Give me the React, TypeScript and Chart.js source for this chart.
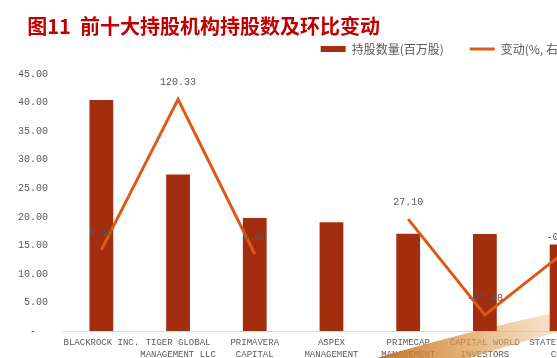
import React, { useEffect, useRef } from 'react';
import { Chart, registerables } from 'chart.js';

Chart.register(...registerables);

const categories: string[][] = [
  ['BLACKROCK INC.'],
  ['TIGER GLOBAL', 'MANAGEMENT LLC'],
  ['PRIMAVERA', 'CAPITAL'],
  ['ASPEX', 'MANAGEMENT'],
  ['PRIMECAP', 'MANAGEMENT'],
  ['CAPITAL WORLD', 'INVESTORS'],
  ['STATE STREET', 'CORP'],
];
const holdings = [40.45, 27.4, 19.8, 19.05, 17.05, 17.0, 15.15];
const changes: (number | null)[] = [3.16, 120.33, 0.0, null, 27.1, -47.48, -0.35];

const barLabel = '持股数量(百万股)';
const lineLabel = '变动(%, 右轴)';
const titleText = '      图11  前十大持股机构持股数及环比变动';

const BAR_COLOR = '#A32D0F';
const LINE_COLOR = '#DD5A16';
const TEXT_GRAY = '#595959';

const swooshPlugin = {
  id: 'swoosh',
  beforeDatasetsDraw(chart: any) {
    const { ctx, chartArea } = chart;
    const b = chartArea.bottom;
    ctx.save();
    const g = ctx.createLinearGradient(380, b + 27, 600, b - 28);
    g.addColorStop(0, 'rgba(195,115,35,0.95)');
    g.addColorStop(0.4, 'rgba(220,150,70,0.7)');
    g.addColorStop(1, 'rgba(245,225,195,0.35)');
    ctx.fillStyle = g;
    ctx.beginPath();
    ctx.moveTo(377, b + 27);
    ctx.quadraticCurveTo(470, b - 1, 600, b - 28);
    ctx.lineTo(600, b - 9);
    ctx.quadraticCurveTo(530, b + 7, 470, b + 27);
    ctx.closePath();
    ctx.fill();
    ctx.restore();
  },
};

const valueLabelPlugin = {
  id: 'valueLabels',
  afterDatasetsDraw(chart: any) {
    const { ctx } = chart;
    const meta = chart.getDatasetMeta(1);
    ctx.save();
    ctx.font = '10px "Liberation Mono"';
    ctx.fillStyle = TEXT_GRAY;
    ctx.textAlign = 'center';
    ctx.textBaseline = 'middle';
    meta.data.forEach((el: any, i: number) => {
      const v = changes[i];
      if (v === null || v === undefined) return;
      ctx.fillText(v.toFixed(2), el.x, el.y - 17);
    });
    ctx.restore();
  },
};

export default function App() {
  const ref = useRef<HTMLCanvasElement | null>(null);

  useEffect(() => {
    if (!ref.current) return;
    const chart = new Chart(ref.current, {
      type: 'bar',
      data: {
        labels: categories,
        datasets: [
          {
            type: 'bar',
            label: barLabel,
            data: holdings,
            backgroundColor: BAR_COLOR,
            borderWidth: 0,
            yAxisID: 'y',
            categoryPercentage: 1,
            barPercentage: 0.31,
            order: 2,
          },
          {
            type: 'line',
            label: lineLabel,
            data: changes,
            borderColor: LINE_COLOR,
            backgroundColor: LINE_COLOR,
            borderWidth: 3,
            pointRadius: 0,
            spanGaps: false,
            tension: 0,
            yAxisID: 'y1',
            order: 1,
          },
        ],
      } as any,
      options: {
        responsive: false,
        animation: false,
        layout: { padding: { left: 0, right: 0, top: 0, bottom: 0 } },
        plugins: {
          tooltip: { enabled: false },
          title: {
            display: true,
            text: titleText,
            align: 'start',
            color: '#C00000',
            font: { family: '"Noto Sans CJK SC"', size: 20, weight: 'bold' },
            padding: { top: 14, bottom: -21 },
          },
          legend: {
            display: true,
            position: 'top',
            align: 'end',
            fullSize: false,
            labels: {
              color: TEXT_GRAY,
              font: { family: '"Noto Sans CJK SC"', size: 12 },
              padding: 26,
              usePointStyle: true,
              pointStyleWidth: 25,
              boxHeight: 6,
              sort: (a: any, b: any) => a.datasetIndex - b.datasetIndex,
              generateLabels: (c: any) => {
                const items = Chart.defaults.plugins.legend.labels.generateLabels(c);
                items.forEach((it: any) => {
                  if (it.datasetIndex === 0) {
                    it.pointStyle = 'rect';
                    it.fillStyle = BAR_COLOR;
                    it.strokeStyle = BAR_COLOR;
                    it.lineWidth = 0;
                  } else {
                    it.pointStyle = 'line';
                    it.strokeStyle = LINE_COLOR;
                    it.lineWidth = 3;
                  }
                });
                return items;
              },
            },
          },
        },
        scales: {
          x: {
            grid: { display: false, drawTicks: false },
            border: { display: true, color: '#D9D9D9', width: 1 },
            ticks: {
              color: TEXT_GRAY,
              font: { family: '"Liberation Mono"', size: 9, lineHeight: 1.33 },
              padding: 6,
              maxRotation: 0,
              autoSkip: false,
            },
          },
          y: {
            position: 'left',
            min: 0,
            max: 46.6,
            grid: { display: false, drawTicks: false },
            border: { display: false },
            afterFit: (s: any) => {
              s.width = 63;
            },
            ticks: {
              stepSize: 5,
              includeBounds: false,
              color: TEXT_GRAY,
              font: { family: '"Liberation Mono"', size: 10 },
              padding: 15,
              callback: (v: any) => (Number(v) === 0 ? '-  ' : Number(v).toFixed(2)),
            },
          },
          y1: {
            position: 'right',
            display: false,
            min: -60,
            max: 147.1,
            grid: { display: false },
          },
        },
      } as any,
      plugins: [swooshPlugin, valueLabelPlugin],
    });
    return () => chart.destroy();
  }, []);

  return (
    <div
      style={{
        position: 'absolute',
        left: 0,
        top: 0,
        width: 557,
        height: 358,
        overflow: 'hidden',
        background: '#fff',
      }}
    >
      <canvas ref={ref} width={600} height={367} style={{ display: 'block' }} />
    </div>
  );
}
